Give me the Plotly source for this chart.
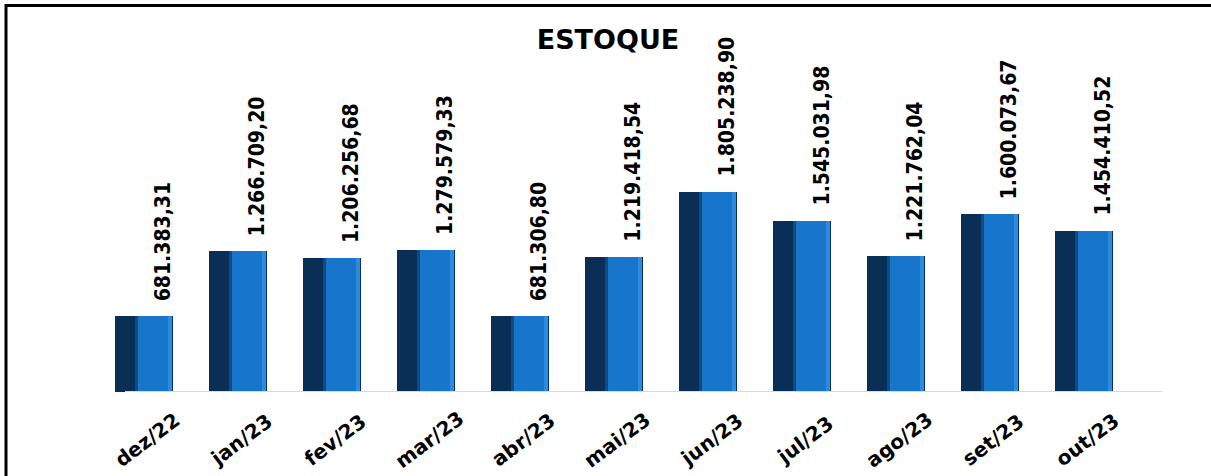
import plotly.graph_objects as go

months = ["dez/22", "jan/23", "fev/23", "mar/23", "abr/23", "mai/23",
          "jun/23", "jul/23", "ago/23", "set/23", "out/23"]
values = [681383.31, 1266709.20, 1206256.68, 1279579.33, 681306.80, 1219418.54,
          1805238.90, 1545031.98, 1221762.04, 1600073.67, 1454410.52]
labels = ["681.383,31", "1.266.709,20", "1.206.256,68", "1.279.579,33", "681.306,80",
          "1.219.418,54", "1.805.238,90", "1.545.031,98", "1.221.762,04",
          "1.600.073,67", "1.454.410,52"]
title_text = "ESTOQUE"

W, H = 1211, 476
L, R, T, B = 97, 80, 59, 84
PW, PH = W - L - R, H - T - B

def px(x):
    return (x - L) / PW

def py(y):
    return (H - B - y) / PH

fig = go.Figure()
bw = 0.61
# dark left face
fig.add_trace(go.Bar(x=months, y=values, width=bw, offset=-bw / 2,
                     marker=dict(color="#0a2f57", line=dict(width=0)), hoverinfo="skip"))
# mid transition
fig.add_trace(go.Bar(x=months, y=values, width=bw * 0.62, offset=-bw / 2 + bw * 0.34,
                     marker=dict(color="#0f4a82", line=dict(width=0)), hoverinfo="skip"))
# light right face
fig.add_trace(go.Bar(x=months, y=values, width=bw * 0.58, offset=-bw / 2 + bw * 0.40,
                     marker=dict(color="#1776cc", line=dict(width=0)), hoverinfo="skip"))
fig.add_trace(go.Bar(x=months, y=values, width=bw * 0.07, offset=-bw / 2 + bw * 0.92,
                     marker=dict(color="#2a8be0", line=dict(width=0)), hoverinfo="skip"))

annotations = []
for m, v, lab in zip(months, values, labels):
    annotations.append(dict(x=m, y=v, text="<b>" + lab + "</b>", showarrow=False, textangle=-90,
                            xanchor="center", yanchor="bottom", xshift=19, yshift=13,
                            font=dict(family="Liberation Sans Narrow, DejaVu Sans Condensed, Arial Narrow",
                                      size=21, color="#000000")))
    annotations.append(dict(x=m, y=0, text="<b>" + m + "</b>", showarrow=False, textangle=-37,
                            xanchor="center", yanchor="middle", xshift=3, yshift=-48,
                            font=dict(family="DejaVu Sans", size=20, color="#000000")))

shapes = [
    dict(type="line", xref="paper", yref="y", x0=px(125), x1=px(1162), y0=0, y1=0,
         line=dict(color="#d9d9d9", width=2)),
    dict(type="line", xref="paper", yref="paper", x0=px(5), x1=px(1215), y0=py(5.5), y1=py(5.5),
         line=dict(color="#000000", width=3)),
    dict(type="line", xref="paper", yref="paper", x0=px(6), x1=px(6), y0=py(4), y1=py(480),
         line=dict(color="#000000", width=3)),
]

fig.update_layout(
    width=W, height=H,
    margin=dict(l=L, r=R, t=T, b=B),
    paper_bgcolor="white", plot_bgcolor="white",
    barmode="overlay", bargap=0,
    showlegend=False,
    title=dict(text="<b>" + title_text + "</b>", x=608 / W, xref="container", xanchor="center",
               y=1 - 40 / H, yref="container", yanchor="middle",
               font=dict(family="DejaVu Sans", size=27, color="#000000")),
    xaxis=dict(showticklabels=False, showgrid=False, zeroline=False, showline=False, ticks=""),
    yaxis=dict(range=[0, 3.0e6], showticklabels=False, showgrid=False, zeroline=False,
               showline=False, ticks=""),
    annotations=annotations,
    shapes=shapes,
)

fig.write_html("out.html", config={"displayModeBar": False},
               post_script="document.body.style.margin='0';document.body.style.overflow='hidden';")
